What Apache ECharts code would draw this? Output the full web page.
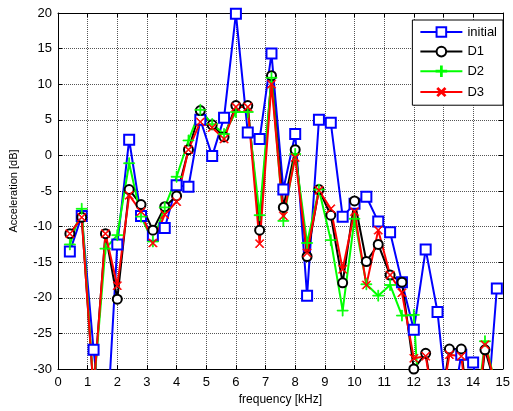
<!DOCTYPE html>
<html>
<head>
<meta charset="utf-8">
<script src="https://cdn.jsdelivr.net/npm/echarts@6/dist/echarts.min.js"></script>
<style>
html, body { margin: 0; padding: 0; background: #fff; }
#main { width: 513px; height: 411px; }
</style>
</head>
<body>
<div id="main"></div>
<script>
// frequency points in kHz
var freq = [0.4, 0.8, 1.2, 1.6, 2.0, 2.4, 2.8, 3.2, 3.6, 4.0,
    4.4, 4.8, 5.2, 5.6, 6.0, 6.4, 6.8, 7.2, 7.6, 8.0,
    8.4, 8.8, 9.2, 9.6, 10.0, 10.4, 10.8, 11.2, 11.6, 12.0,
    12.4, 12.8, 13.2, 13.6, 14.0, 14.4, 14.8];

var initial = [-13.5, -8.5, -27.3, -42, -12.5, 2.2, -8.5, -11.3, -10.2, -4.2,
    -4.4, 5, -0.1, 5.3, 19.9, 3.2, 2.3, 14.3, -4.8, 3.0,
    -19.7, 5.0, 4.6, -8.6, -6.8, -5.8, -9.3, -10.8, -17.8, -24.5,
    -13.2, -22, -38, -28, -29.1, -40, -18.7];

var d1 = [-11, -8.7, -33, -11, -20.2, -4.8, -6.9, -10.5, -7.2, -5.7,
    0.8, 6.3, 4.3, 2.6, 7.0, 7.0, -10.5, 11.2, -7.3, 0.8,
    -14.2, -4.8, -8.4, -17.9, -6.4, -14.9, -12.5, -16.8, -17.8, -30,
    -27.8, -38, -27.2, -27.2, -42, -27.3, -33];

var d2 = [-12.5, -7.5, -33, -13.1, -11.2, -1.1, -8.6, -12.1, -7.3, -3.0,
    2.1, 6.4, 4.4, 3.0, 6.1, 6.1, -8.4, 10.9, -9.2, 0.2,
    -12.3, -4.8, -11.9, -21.8, -8.9, -18.1, -19.7, -18.2, -22.5, -22.4,
    -50, -50, -50, -50, -40, -26.1, -33];

var d3 = [-11, -8.7, -33, -11, -18.3, -5.6, -7.9, -12.3, -8.3, -6.5,
    0.8, 4.7, 3.9, 2.3, 6.8, 6.8, -12.4, 10.0, -8.5, -0.3,
    -13.7, -4.9, -7.5, -16, -7.9, -18.2, -10.5, -16.8, -19.3, -28.5,
    -28.2, -38, -28.0, -28.2, -42, -26.6, -33];

var xTicks = [0, 15, 1];
var yTicks = [-30, 20, 5];

function pairs(ys) {
    return freq.map(function (x, i) { return [x, ys[i]]; });
}

// thin plus, rotated 45deg for the x marker
var plusPath = 'path://M4.6,0h0.8v4.6h4.6v0.8h-4.6v4.6h-0.8v-4.6h-4.6v-0.8h4.6z';
var font = 'Liberation Sans, Arial, sans-serif';

var myChart = echarts.init(document.getElementById('main'));

function mkSeries(name, ys, color, symbol, size, rot, bw) {
    return {
        name: name,
        type: 'line',
        data: pairs(ys),
        symbol: symbol,
        symbolSize: size,
        symbolRotate: rot || 0,
        showAllSymbol: true,
        clip: true,
        animation: false,
        lineStyle: { color: color, width: 2 },
        itemStyle: { color: color, borderColor: color, borderWidth: bw }
    };
}

var option = {
    backgroundColor: '#fff',
    animation: false,
    grid: { left: 54, right: 4, top: 13, bottom: 42 },
    legend: {
        orient: 'vertical',
        right: 10,
        top: 20,
        padding: [5, 6, 5, 7],
        itemGap: 5.6,
        itemWidth: 42,
        itemHeight: 12,
        borderColor: '#000',
        borderWidth: 1,
        borderRadius: 0,
        backgroundColor: '#fff',
        textStyle: { fontFamily: font, fontSize: 13, lineHeight: 14, color: '#000', padding: [0, 0, 0, 0] },
        data: ['initial', 'D1', 'D2', 'D3']
    },
    xAxis: [{
        type: 'value',
        min: xTicks[0], max: xTicks[1], interval: xTicks[2],
        name: 'frequency [kHz]',
        nameLocation: 'middle',
        nameGap: 21,
        nameTextStyle: { fontFamily: font, fontSize: 12, color: '#000' },
        axisLine: { onZero: false, lineStyle: { color: '#000', width: 1 } },
        axisTick: { inside: true, length: 4, lineStyle: { color: '#000' } },
        axisLabel: { fontFamily: font, fontSize: 13, color: '#000', margin: 7 },
        splitLine: { show: true, lineStyle: { color: '#555', type: 'dotted', width: 1 } }
    }, {
        type: 'value', position: 'top',
        min: xTicks[0], max: xTicks[1], interval: xTicks[2],
        axisLine: { onZero: false, lineStyle: { color: '#000', width: 1 } },
        axisTick: { inside: true, length: 4, lineStyle: { color: '#000' } },
        axisLabel: { show: false },
        splitLine: { show: false }
    }],
    yAxis: [{
        type: 'value',
        min: yTicks[0], max: yTicks[1], interval: yTicks[2],
        name: 'Acceleration [dB]',
        nameLocation: 'middle',
        nameGap: 39,
        nameTextStyle: { fontFamily: font, fontSize: 11, color: '#000' },
        axisLine: { onZero: false, lineStyle: { color: '#000', width: 1 } },
        axisTick: { inside: true, length: 4, lineStyle: { color: '#000' } },
        axisLabel: { fontFamily: font, fontSize: 13, color: '#000', margin: 6 },
        splitLine: { show: true, lineStyle: { color: '#555', type: 'dotted', width: 1 } }
    }, {
        type: 'value', position: 'right',
        min: yTicks[0], max: yTicks[1], interval: yTicks[2],
        axisLine: { onZero: false, lineStyle: { color: '#000', width: 1 } },
        axisTick: { inside: true, length: 4, lineStyle: { color: '#000' } },
        axisLabel: { show: false },
        splitLine: { show: false }
    }],
    series: [
        mkSeries('initial', initial, '#0000ff', 'emptyRect', 10, 0, 1.6),
        mkSeries('D1', d1, '#000000', 'emptyCircle', 9, 0, 1.6),
        mkSeries('D2', d2, '#00ff00', plusPath, 11, 0, 0.8),
        mkSeries('D3', d3, '#ff0000', plusPath, 11, 45, 0.8)
    ]
};

myChart.setOption(option);
</script>
</body>
</html>
